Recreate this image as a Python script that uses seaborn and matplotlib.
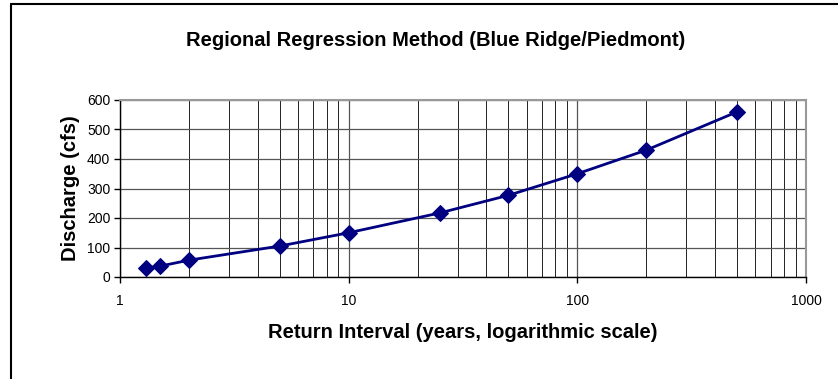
import matplotlib
matplotlib.use("Agg")
import matplotlib.pyplot as plt
from matplotlib.lines import Line2D
from matplotlib.ticker import LogLocator, FixedLocator, FixedFormatter, NullFormatter
import seaborn as sns
import pandas as pd

# Return periods (years) and regression discharge estimates (cfs)
return_interval = [1.3, 1.5, 2, 5, 10, 25, 50, 100, 200, 500]
discharge = [30, 37, 57, 105, 150, 217, 277, 350, 430, 560]

x_ticks = [1, 10, 100, 1000]
x_tick_labels = ["1", "10", "100", "1000"]
y_ticks = [0, 100, 200, 300, 400, 500, 600]

sns.set_style("white")
plt.rcParams["font.family"] = ["Liberation Sans", "DejaVu Sans"]
plt.rcParams["text.color"] = "black"
plt.rcParams["axes.labelcolor"] = "black"
plt.rcParams["xtick.color"] = "black"
plt.rcParams["ytick.color"] = "black"

df = pd.DataFrame({"interval": return_interval, "discharge": discharge})

fig = plt.figure(figsize=(8.38, 3.79), dpi=100)
ax = fig.add_axes([120 / 838, 1 - 277 / 379, 686 / 838, 177 / 379])

sns.lineplot(data=df, x="interval", y="discharge", ax=ax, color="#000080",
             linewidth=2, marker="D", markersize=8, markeredgecolor="#000080",
             markerfacecolor="#000080")

ax.set_xscale("log")
ax.set_xlim(1, 1000)
ax.set_ylim(0, 600)

ax.xaxis.set_major_locator(FixedLocator(x_ticks))
ax.xaxis.set_major_formatter(FixedFormatter(x_tick_labels))
ax.xaxis.set_minor_locator(LogLocator(base=10, subs=range(2, 10)))
ax.xaxis.set_minor_formatter(NullFormatter())
ax.yaxis.set_major_locator(FixedLocator(y_ticks))

ax.grid(which="major", axis="both", color="#555555", linewidth=0.9)
ax.grid(which="minor", axis="x", color="#222222", linewidth=0.7)

ax.tick_params(axis="both", which="major", labelsize=10, length=4, width=1,
               color="black", labelcolor="black", direction="out", pad=3)
ax.tick_params(axis="x", which="major", pad=8)
ax.tick_params(axis="x", which="minor", length=0)
ax.tick_params(left=True, bottom=True)

for side in ("left", "bottom"):
    ax.spines[side].set_color("black")
    ax.spines[side].set_linewidth(1)
for side in ("top", "right"):
    ax.spines[side].set_color("#999999")
    ax.spines[side].set_linewidth(1.5)

ax.set_xlabel("Return Interval (years, logarithmic scale)", fontsize=14.5,
              fontweight="bold", labelpad=11, color="black")
ax.set_ylabel("Discharge (cfs)", fontsize=14.5, fontweight="bold", labelpad=5,
              color="black")

fig.text(436 / 838, 1 - 41 / 379, "Regional Regression Method (Blue Ridge/Piedmont)",
         ha="center", va="center", fontsize=14.5, fontweight="bold", color="black")

# chart frame (left and top edges)
fig.add_artist(Line2D([11 / 838, 11 / 838], [0, 1 - 4 / 379], color="black",
                      linewidth=1.5, transform=fig.transFigure))
fig.add_artist(Line2D([11 / 838, 1], [1 - 4 / 379, 1 - 4 / 379], color="black",
                      linewidth=1.5, transform=fig.transFigure))

fig.savefig("out.png", dpi=100)
